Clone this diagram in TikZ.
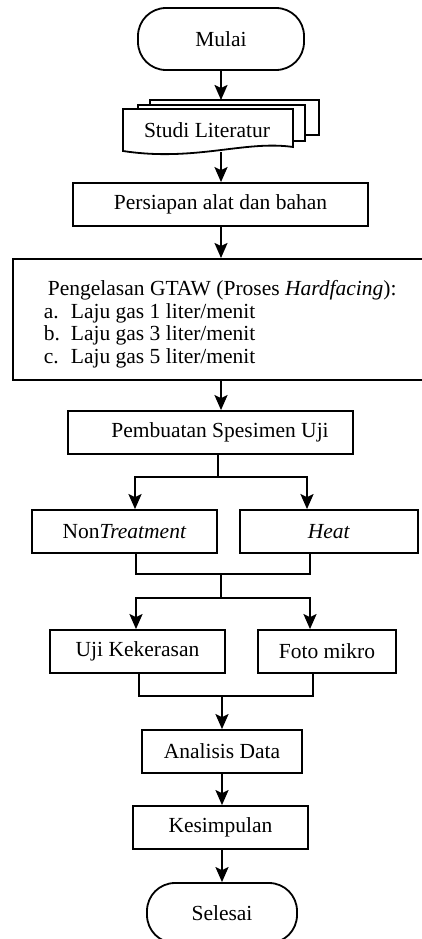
\documentclass[tikz,border=0pt]{standalone}
\usepackage{fontspec}
\setmainfont{Liberation Serif}
\usetikzlibrary{arrows.meta,calc}
\newcommand{\fsz}{\fontsize{21.5}{25}\selectfont}
\tikzset{
  box/.style={draw, line width=1.8pt, inner sep=0pt, minimum height=43pt, font=\fsz, fill=white},
  term/.style={box, rounded corners=28pt, minimum height=62pt},
  ln/.style={line width=1.8pt},
  arr/.style={line width=2pt, -{Stealth[length=15pt,width=13pt,inset=3pt]}}
}
\begin{document}
\begin{tikzpicture}[x=1pt,y=-1pt]
\useasboundingbox (0,0) rectangle (422,939);
\clip (0,0) rectangle (422,939);
% nodes
\node[term, minimum width=166pt] (mulai) at (221,39) {Mulai};
% studi literatur (multi document)
\begin{scope}[line width=1.8pt]
\draw[fill=white] (150,100) rectangle (319,135);
\draw[fill=white] (138,105) rectangle (305,141);
\draw[fill=white] (123,109) -- (293,109) -- (293,147) .. controls (245,140) and (195,162) .. (123,151) -- cycle;
\end{scope}
\node[font=\fsz, inner sep=0pt] (studi) at (207,130) {Studi Literatur};
\coordinate (studitop) at (221,100);
\coordinate (studibot) at (221,152);
\node[box, minimum width=295pt] (pers) at (220.5,204.5) {Persiapan alat dan bahan};
\node[box, anchor=north west, minimum width=440pt, minimum height=121pt,
      text width=370pt, inner xsep=35pt, inner ysep=0pt, align=flush left,
      font=\fontsize{21.5}{22.7}\selectfont] (gtaw) at (12,258)
  {\rule{0pt}{25pt}Pengelasan GTAW (Proses \textit{Hardfacing}):\\
   \hspace*{-4pt}\makebox[27pt][l]{a.}Laju gas 1 liter/menit\\
   \hspace*{-4pt}\makebox[27pt][l]{b.}Laju gas 3 liter/menit\\
   \hspace*{-4pt}\makebox[27pt][l]{c.}Laju gas 5 liter/menit};
\node[box, minimum width=285pt] (pemb) at (210.5,432.5) {\hspace*{19pt}Pembuatan Spesimen Uji};
\node[box, minimum width=185pt] (nt) at (124.5,531.5) {Non\textit{Treatment}};
\node[box, minimum width=178pt] (heat) at (329,531.5) {\textit{Heat}};
\node[box, minimum width=175pt] (uji) at (137.5,651.5) {Uji Kekerasan};
\node[box, minimum width=138pt] (foto) at (327,651.5) {Foto mikro};
\node[box, minimum width=160pt] (ana) at (222,751.5) {Analisis Data};
\node[box, minimum width=175pt] (kes) at (220.5,827.5) {Kesimpulan};
\node[term, minimum width=150pt, minimum height=60pt] (sel) at (222,913) {Selesai};
% connectors
\coordinate (cx) at (221,0);
\draw[arr] (mulai.south -| cx) -- (studitop);
\draw[arr] (studibot) -- (pers.north -| cx);
\draw[arr] (pers.south -| cx) -- (gtaw.north -| cx);
\draw[arr] (gtaw.south -| cx) -- (pemb.north -| cx);
\coordinate (j1) at (218,477);
\draw[ln] (pemb.south -| j1) -- (j1);
\draw[arr] (j1) -| ([xshift=10.5pt]nt.north);
\draw[arr] (j1) -| ([xshift=-22pt]heat.north);
\coordinate (m1) at (221,574);
\draw[ln] ([xshift=11.5pt]nt.south) |- (m1) -| ([xshift=-19pt]heat.south);
\coordinate (j2) at (221,598);
\draw[ln] (m1) -- (j2);
\draw[arr] (j2) -| ([xshift=-1.5pt]uji.north);
\draw[arr] (j2) -| ([xshift=-17pt]foto.north);
\coordinate (m2) at (222,696);
\draw[ln] ([xshift=1.5pt]uji.south) |- (m2) -| ([xshift=-14pt]foto.south);
\draw[arr] (m2) -- (ana.north -| m2);
\draw[arr] (ana.south -| m2) -- (kes.north -| m2);
\draw[arr] (kes.south -| m2) -- (sel.north -| m2);
\end{tikzpicture}
\end{document}
